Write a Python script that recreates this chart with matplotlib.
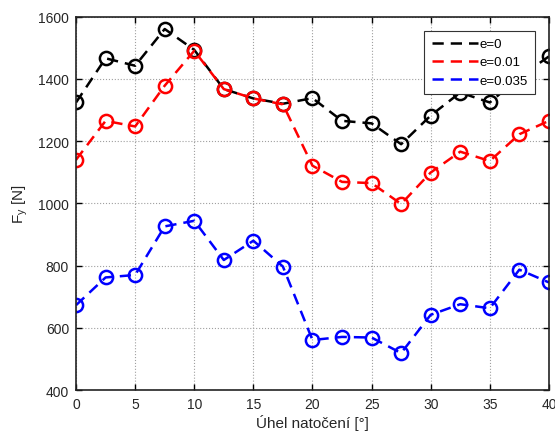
import matplotlib
matplotlib.use("Agg")
import matplotlib.pyplot as plt
from matplotlib.lines import Line2D

plt.rcParams['font.family'] = ['Liberation Sans', 'DejaVu Sans']

angle = [0, 2.5, 5, 7.5, 10, 12.5, 15, 17.5, 20, 22.5, 25, 27.5, 30, 32.5, 35, 37.5, 40]
fy_e0 = [1324, 1466, 1442, 1560, 1493, 1367, 1337, 1320, 1338, 1265, 1257, 1190, 1282, 1356, 1324, 1405, 1472]
fy_e001 = [1140, 1265, 1247, 1378, 1490, 1367, 1337, 1318, 1121, 1069, 1065, 998, 1099, 1166, 1136, 1222, 1265]
fy_e0035 = [673, 762, 770, 926, 944, 818, 880, 797, 561, 571, 569, 519, 642, 676, 663, 787, 746]
labels = ['e=0', 'e=0.01', 'e=0.035']
colors = ['#000000', '#ff0000', '#0000ff']
x_ticks = [0, 5, 10, 15, 20, 25, 30, 35, 40]
y_ticks = [400, 600, 800, 1000, 1200, 1400, 1600]

dash = (0, (4.5, 2.8))

fig = plt.figure(figsize=(5.55, 4.39), dpi=100)
ax = fig.add_axes([0.137, 0.109, 0.852, 0.851])

for ys, c in zip([fy_e0, fy_e001, fy_e0035], colors):
    ax.plot(angle, ys, linestyle=dash, color=c, linewidth=1.8,
            marker='o', markersize=9.5, markerfacecolor='none',
            markeredgewidth=1.8, markeredgecolor=c)

ax.set_xlim(0, 40)
ax.set_ylim(400, 1600)
ax.set_xticks(x_ticks)
ax.set_yticks(y_ticks)
ax.grid(True, linestyle=':', color='#a0a0a0', linewidth=0.8)
ax.tick_params(direction='in', top=True, right=True, labelsize=10, length=4, width=1, pad=5,
               labelcolor='#262626')
for s in ax.spines.values():
    s.set_linewidth(1.2)
    s.set_color('#222222')

ax.set_xlabel('Úhel natočení [°]', fontsize=11, color='#262626', labelpad=2)
ax.set_ylabel('F$_\\mathregular{y}$ [N]', fontsize=11, color='#262626', labelpad=6)

handles = [Line2D([0], [0], color=c, linestyle=dash, linewidth=1.8) for c in colors]
leg = ax.legend(handles, labels, loc='upper right', bbox_to_anchor=(0.971, 0.962),
                fontsize=9.5, frameon=True, fancybox=False, edgecolor='#333333',
                handlelength=3.5, handletextpad=0.15, borderpad=0.55, labelspacing=0.45,
                borderaxespad=0.0, framealpha=1.0)
leg.get_frame().set_linewidth(0.8)
leg.set_zorder(10)

fig.savefig('out.png', dpi=100)
